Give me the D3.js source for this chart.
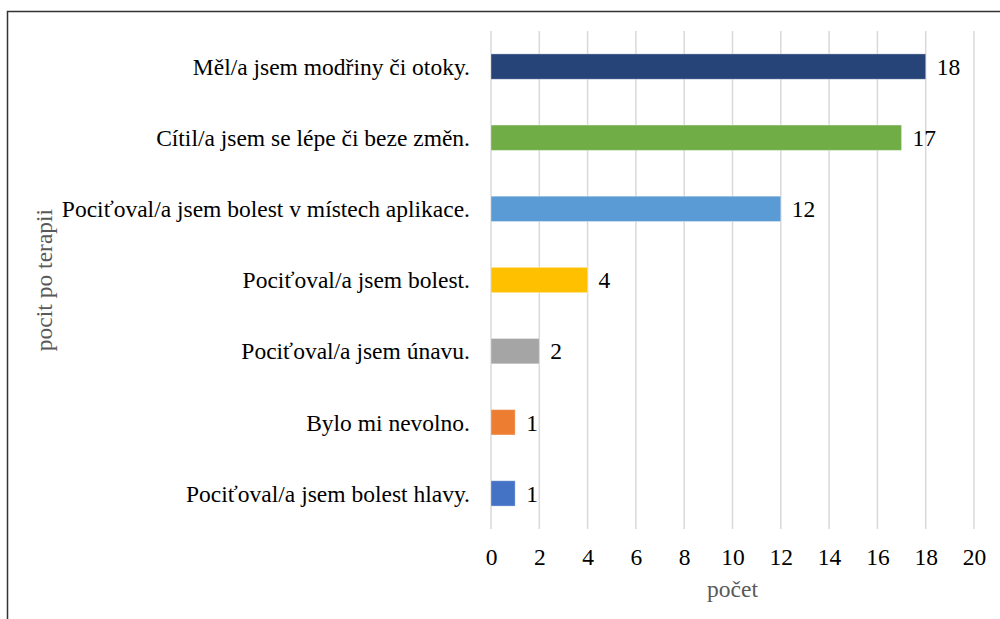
<!DOCTYPE html>
<html>
<head>
<meta charset="utf-8">
<script src="https://cdnjs.cloudflare.com/ajax/libs/d3/7.8.5/d3.min.js"></script>
<style>
  body { margin: 0; background: #fff; }
</style>
</head>
<body>
<div id="main-container"></div>
<script>
var width = 1000,
    height = 619

var serif = "'Liberation Serif', 'Times New Roman', serif"
var fontSize = 23.5

// data (top to bottom)
var categories = [
  "Měl/a jsem modřiny či otoky.",
  "Cítil/a jsem se lépe či beze změn.",
  "Pociťoval/a jsem bolest v místech aplikace.",
  "Pociťoval/a jsem bolest.",
  "Pociťoval/a jsem únavu.",
  "Bylo mi nevolno.",
  "Pociťoval/a jsem bolest hlavy."
]
var values = [18, 17, 12, 4, 2, 1, 1]
var barColors = ["#264478", "#70ad47", "#5b9bd5", "#ffc000", "#a5a5a5", "#ed7d31", "#4472c4"]
var xTicks = [0, 2, 4, 6, 8, 10, 12, 14, 16, 18, 20]

var margin = {left: 491, right: 26, top: 31, bottom: 90}

var svg = d3.select("#main-container").append("svg")
  .attr("width", width)
  .attr("height", height)
  .style("font-family", serif)

// chart frame (runs off the right and bottom edge)
svg.append("rect")
  .attr("x", 7.5)
  .attr("y", 11.5)
  .attr("width", 1010)
  .attr("height", 630)
  .attr("fill", "none")
  .attr("stroke", "#333")
  .attr("stroke-width", 1.5)

var x = d3.scaleLinear()
  .domain([0, 20])
  .range([margin.left, width - margin.right])

var y = d3.scaleBand()
  .domain(categories)
  .range([margin.top, height - margin.bottom])
  .paddingInner(0.644)
  .paddingOuter(0.322)

// gridlines
svg.append("g")
  .selectAll("line")
  .data(xTicks)
  .enter()
  .append("line")
    .attr("x1", function(d){ return x(d) })
    .attr("x2", function(d){ return x(d) })
    .attr("y1", margin.top)
    .attr("y2", height - margin.bottom)
    .attr("stroke", "#d9d9d9")
    .attr("stroke-width", 1.5)

// bars
svg.append("g")
  .selectAll("rect")
  .data(values)
  .enter()
  .append("rect")
    .attr("x", x(0))
    .attr("y", function(d, i){ return y(categories[i]) })
    .attr("width", function(d){ return x(d) - x(0) })
    .attr("height", y.bandwidth())
    .attr("fill", function(d, i){ return barColors[i] })
    .attr("stroke", "#fff")
    .attr("stroke-opacity", 0.35)
    .attr("stroke-width", 1)

// value labels
svg.append("g")
  .selectAll("text")
  .data(values)
  .enter()
  .append("text")
    .attr("x", function(d){ return x(d) + 11 })
    .attr("y", function(d, i){ return y(categories[i]) + y.bandwidth() / 2 })
    .attr("dy", "0.35em")
    .attr("font-family", serif)
    .attr("font-size", fontSize)
    .attr("fill", "#000")
    .text(function(d){ return d })

// category labels
svg.append("g")
  .selectAll("text")
  .data(categories)
  .enter()
  .append("text")
    .attr("x", 470)
    .attr("y", function(d){ return y(d) + y.bandwidth() / 2 })
    .attr("dy", "0.35em")
    .attr("text-anchor", "end")
    .attr("font-family", serif)
    .attr("font-size", fontSize)
    .attr("fill", "#000")
    .text(function(d){ return d })

// x axis
var xAxis = d3.axisBottom(x)
  .tickValues(xTicks)
  .tickSize(0)
  .tickPadding(0)

var gx = svg.append("g")
  .attr("transform", "translate(0," + (height - margin.bottom) + ")")
  .call(xAxis)
gx.attr("font-family", serif)
gx.select(".domain").remove()
gx.selectAll("text")
  .attr("y", 36)
  .attr("dy", 0)
  .attr("font-size", fontSize)
  .attr("fill", "#000")

// axis titles
svg.append("text")
  .attr("x", x(10))
  .attr("y", 597)
  .attr("text-anchor", "middle")
  .attr("font-family", serif)
  .attr("font-size", fontSize)
  .attr("fill", "#595959")
  .text("počet")

svg.append("text")
  .attr("transform", "translate(52," + ((margin.top + height - margin.bottom) / 2) + ") rotate(-90)")
  .attr("text-anchor", "middle")
  .attr("font-family", serif)
  .attr("font-size", fontSize)
  .attr("fill", "#595959")
  .text("pocit po terapii")
</script>
</body>
</html>
